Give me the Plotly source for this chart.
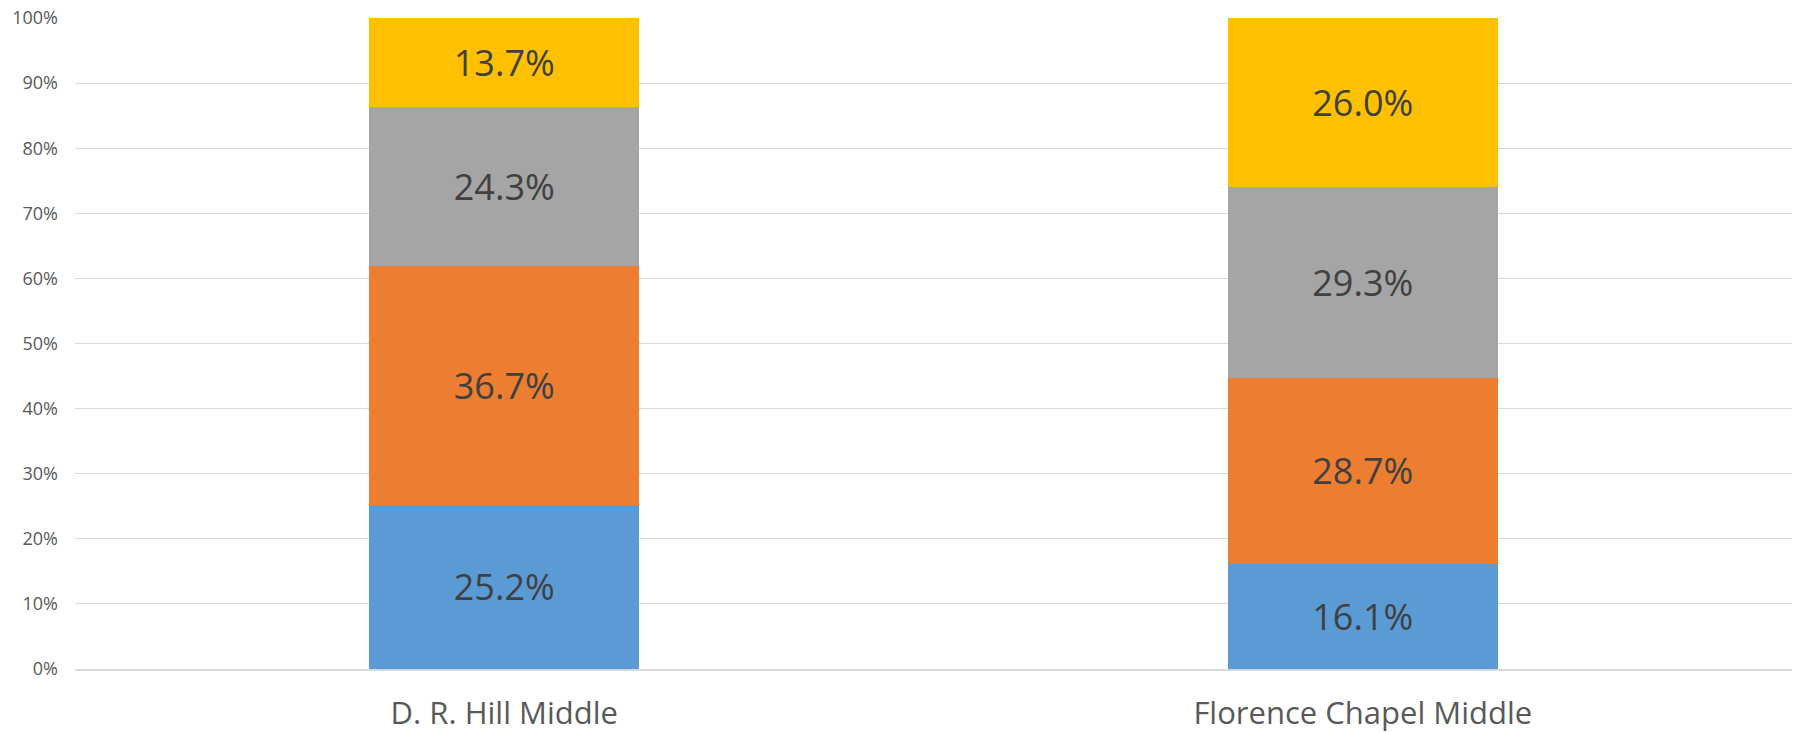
import plotly.graph_objects as go

schools = ["D. R. Hill Middle", "Florence Chapel Middle"]
series_names = ["Series 1", "Series 2", "Series 3", "Series 4"]
series_values = [
    [25.2, 16.1],
    [36.7, 28.7],
    [24.3, 29.3],
    [13.7, 26.0],
]
colors = ["#5B9BD5", "#ED7D31", "#A5A5A5", "#FFC000"]
y_ticks = [0, 10, 20, 30, 40, 50, 60, 70, 80, 90, 100]
y_tick_labels = [f"{t}%" for t in y_ticks]

fig = go.Figure()
for name, vals, col in zip(series_names, series_values, colors):
    fig.add_trace(go.Bar(
        x=schools, y=vals, name=name,
        marker=dict(color=col, line=dict(width=0)),
        text=[f"{v:.1f}%" for v in vals],
        textposition="inside", insidetextanchor="middle",
        textfont=dict(family="Open Sans", size=36, color="#404040"),
        hoverinfo="skip",
    ))

fig.update_layout(
    barmode="stack", barnorm="percent",
    bargap=0.685,
    width=1797, height=732,
    margin=dict(l=75, r=5, t=18, b=63),
    plot_bgcolor="white", paper_bgcolor="white",
    showlegend=False,
    uniformtext=dict(mode=False),
    xaxis=dict(
        tickfont=dict(family="Open Sans", size=31, color="#595959"),
        showline=True, linecolor="#d9d9d9", linewidth=1.5,
        ticks="", ticklabelstandoff=16, automargin=False,
    ),
    yaxis=dict(
        range=[0, 100], tickvals=y_ticks, ticktext=y_tick_labels,
        showgrid=True, gridcolor="#d9d9d9", gridwidth=1.2,
        zeroline=False, ticks="", ticklabelstandoff=16, automargin=False,
        tickfont=dict(family="Open Sans", size=18, color="#595959"),
    ),
)
fig.write_html(
    "out.html",
    config={"displayModeBar": False},
    post_script="document.body.style.margin='0';document.body.style.overflow='hidden';",
)
